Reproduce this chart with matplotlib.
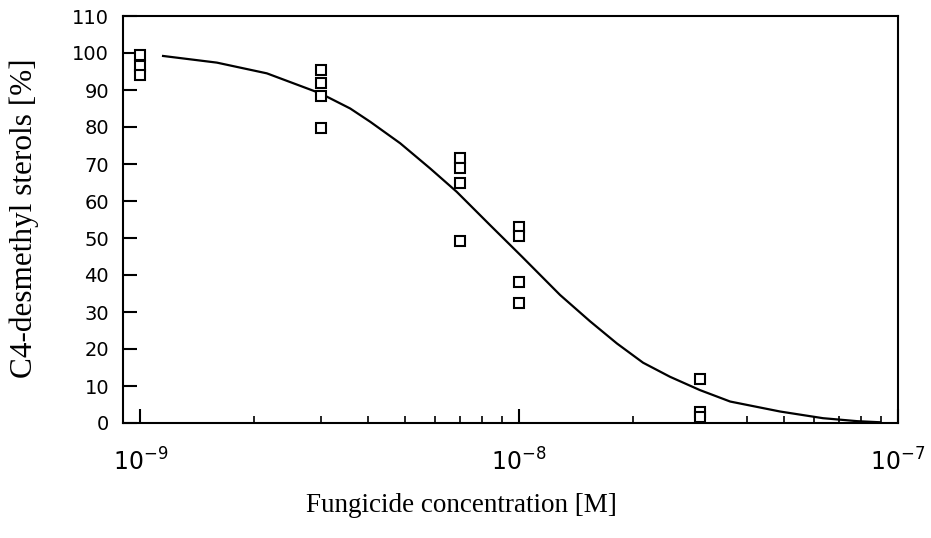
import numpy as np
import matplotlib
matplotlib.use("Agg")
import matplotlib.pyplot as plt
from matplotlib.ticker import LogLocator, FixedLocator, NullFormatter

# measured points (concentration in M, % C4-desmethyl sterols)
conc_1e9 = [1e-9, 1e-9, 1e-9]
vals_1e9 = [99.5, 96.5, 94.0]
conc_3e9 = [3e-9, 3e-9, 3e-9, 3e-9]
vals_3e9 = [95.3, 92.0, 88.5, 79.8]
conc_7e9 = [7e-9, 7e-9, 7e-9, 7e-9]
vals_7e9 = [71.5, 68.8, 64.9, 49.3]
conc_1e8 = [1e-8, 1e-8, 1e-8, 1e-8]
vals_1e8 = [53.1, 50.6, 38.0, 32.4]
conc_3e8 = [3e-8, 3e-8, 3e-8]
vals_3e8 = [11.8, 3.1, 1.5]

# fitted dose-response curve (log10 conc, %)
curve_logx = [-8.940, -8.798, -8.666, -8.525, -8.446, -8.393, -8.314, -8.235,
              -8.165, -8.077, -7.993, -7.892, -7.813, -7.742, -7.673,
              -7.602, -7.523, -7.443, -7.311, -7.198, -7.108, -7.048]
curve_y = [99.2, 97.4, 94.5, 89.1, 85.0, 81.4, 75.6, 68.8,
           62.5, 53.5, 45.0, 34.6, 27.5, 21.5, 16.3,
           12.5, 8.9, 5.8, 3.1, 1.3, 0.5, 0.2]

x_ticks = [1e-9, 1e-8, 1e-7]
x_ticklabels = ["10$^{-9}$", "10$^{-8}$", "10$^{-7}$"]
y_ticks = list(range(0, 111, 10))

plt.rcParams["font.family"] = ["DejaVu Sans"]
plt.rcParams["mathtext.fontset"] = "dejavusans"

fig = plt.figure(figsize=(9.31, 5.38), dpi=100)
ax = fig.add_axes([123 / 931, 1 - 423 / 538, 775 / 931, 407 / 538])

ax.plot(10 ** np.array(curve_logx), curve_y, color="black", lw=1.6)

all_x = conc_1e9 + conc_3e9 + conc_7e9 + conc_1e8 + conc_3e8
all_y = vals_1e9 + vals_3e9 + vals_7e9 + vals_1e8 + vals_3e8
ax.plot(all_x, all_y, linestyle="none", marker="s", markersize=7,
        markerfacecolor="white", markeredgecolor="black", markeredgewidth=1.5)

ax.set_xscale("log")
ax.set_xlim(0.9e-9, 1e-7)
ax.set_ylim(0, 110)

ax.xaxis.set_major_locator(FixedLocator(x_ticks))
ax.set_xticklabels(x_ticklabels)
ax.xaxis.set_minor_locator(LogLocator(base=10, subs=np.arange(2, 10)))
ax.xaxis.set_minor_formatter(NullFormatter())
ax.set_yticks(y_ticks)

for s in ax.spines.values():
    s.set_linewidth(1.5)

ax.tick_params(axis="x", which="major", direction="in", length=10, width=1.5,
               pad=18, labelsize=17)
ax.tick_params(axis="x", which="minor", direction="in", length=5, width=1.2)
ax.tick_params(axis="y", which="major", direction="in", length=10, width=1.5,
               pad=10, labelsize=14)
ax.tick_params(top=False, right=False, which="both")

fig.text(461 / 931, 1 - 505 / 538, "Fungicide concentration [M]",
         family="Liberation Serif", fontsize=19.5, ha="center", va="center")
fig.text(24 / 931, 1 - 218 / 538, "C4-desmethyl sterols [%]",
         family="Liberation Serif", fontsize=22.5, ha="center", va="center",
         rotation=90)

fig.savefig("out.png", dpi=100)
